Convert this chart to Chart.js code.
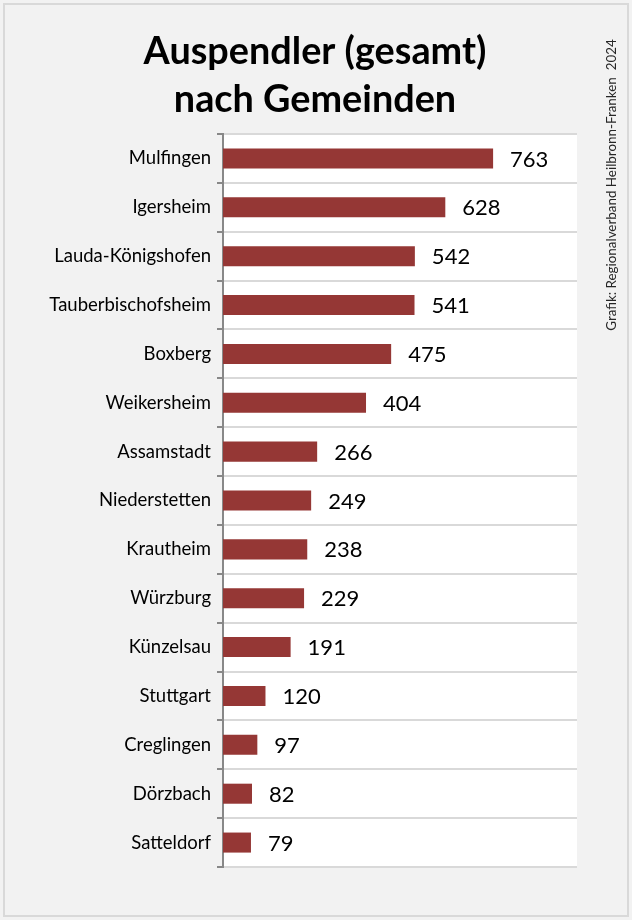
<!DOCTYPE html>
<html>
<head>
<meta charset="utf-8">
<script src="https://cdn.jsdelivr.net/npm/chart.js@4"></script>
<style>
  html, body { margin: 0; padding: 0; background: #ffffff; }
  #wrap { position: relative; width: 632px; height: 920px; }
</style>
</head>
<body>
<div id="wrap"><canvas id="chart" width="632" height="920"></canvas></div>
<script>
const gemeinden = ['Mulfingen', 'Igersheim', 'Lauda-Königshofen', 'Tauberbischofsheim', 'Boxberg',
    'Weikersheim', 'Assamstadt', 'Niederstetten', 'Krautheim', 'Würzburg',
    'Künzelsau', 'Stuttgart', 'Creglingen', 'Dörzbach', 'Satteldorf'];
const auspendler = [763, 628, 542, 541, 475, 404, 266, 249, 238, 229, 191, 120, 97, 82, 79];
const titleLines = ['Auspendler (gesamt)', 'nach Gemeinden'];
const sourceText = 'Grafik: Regionalverband Heilbronn-Franken  2024';

const fontFamily = 'Lato, "Open Sans", sans-serif';

// frame, white plot area, title and the rotated source note
const backgroundPlugin = {
    id: 'background',
    beforeDraw(chart) {
        const ctx = chart.ctx;
        const area = chart.chartArea;
        ctx.save();
        ctx.fillStyle = '#f2f2f2';
        ctx.fillRect(0, 0, chart.width, chart.height);
        ctx.strokeStyle = '#d9d9d9';
        ctx.lineWidth = 2;
        ctx.strokeRect(4, 4, chart.width - 8, chart.height - 8);
        ctx.fillStyle = '#ffffff';
        ctx.fillRect(area.left, area.top, area.right - area.left, area.bottom - area.top);

        // title, centred on the whole frame like the original
        ctx.fillStyle = '#000000';
        ctx.font = 'bold 37.8px ' + fontFamily;
        ctx.textAlign = 'center';
        ctx.textBaseline = 'middle';
        titleLines.forEach((line, i) => ctx.fillText(line, 315, 52 + i * 48));

        ctx.translate(612, 185);
        ctx.rotate(-Math.PI / 2);
        ctx.fillStyle = '#262626';
        ctx.font = '13.4px ' + fontFamily;
        ctx.fillText(sourceText, 0, 0);
        ctx.restore();
    }
};

// value labels right of each bar
const valueLabelPlugin = {
    id: 'valueLabels',
    afterDatasetsDraw(chart) {
        const ctx = chart.ctx;
        const meta = chart.getDatasetMeta(0);
        ctx.save();
        ctx.fillStyle = '#000000';
        ctx.font = '22px ' + fontFamily;
        ctx.textAlign = 'left';
        ctx.textBaseline = 'middle';
        meta.data.forEach((bar, i) => {
            ctx.fillText(String(auspendler[i]), bar.x + 17, bar.y + 1);
        });
        ctx.restore();
    }
};

new Chart(document.getElementById('chart'), {
    type: 'bar',
    data: {
        labels: gemeinden,
        datasets: [{
            data: auspendler,
            backgroundColor: '#953735',
            borderWidth: 0,
            categoryPercentage: 1,
            barPercentage: 0.41
        }]
    },
    options: {
        indexAxis: 'y',
        responsive: false,
        animation: false,
        devicePixelRatio: 1,
        layout: {
            padding: { left: 10, right: 55, top: 134, bottom: 53 }
        },
        plugins: {
            legend: { display: false },
            tooltip: { enabled: false },
            title: { display: false }
        },
        scales: {
            x: {
                display: false,
                min: 0,
                max: 1000
            },
            y: {
                afterFit(scale) { scale.width = 213; },
                grid: {
                    offset: true,
                    color: '#d9d9d9',
                    lineWidth: 2,
                    tickColor: '#888888',
                    tickLength: 6,
                    tickWidth: 2
                },
                border: { color: '#888888', width: 2 },
                ticks: {
                    color: '#000000',
                    padding: 6,
                    font: { family: fontFamily, size: 18.5 }
                }
            }
        }
    },
    plugins: [backgroundPlugin, valueLabelPlugin]
});
</script>
</body>
</html>
